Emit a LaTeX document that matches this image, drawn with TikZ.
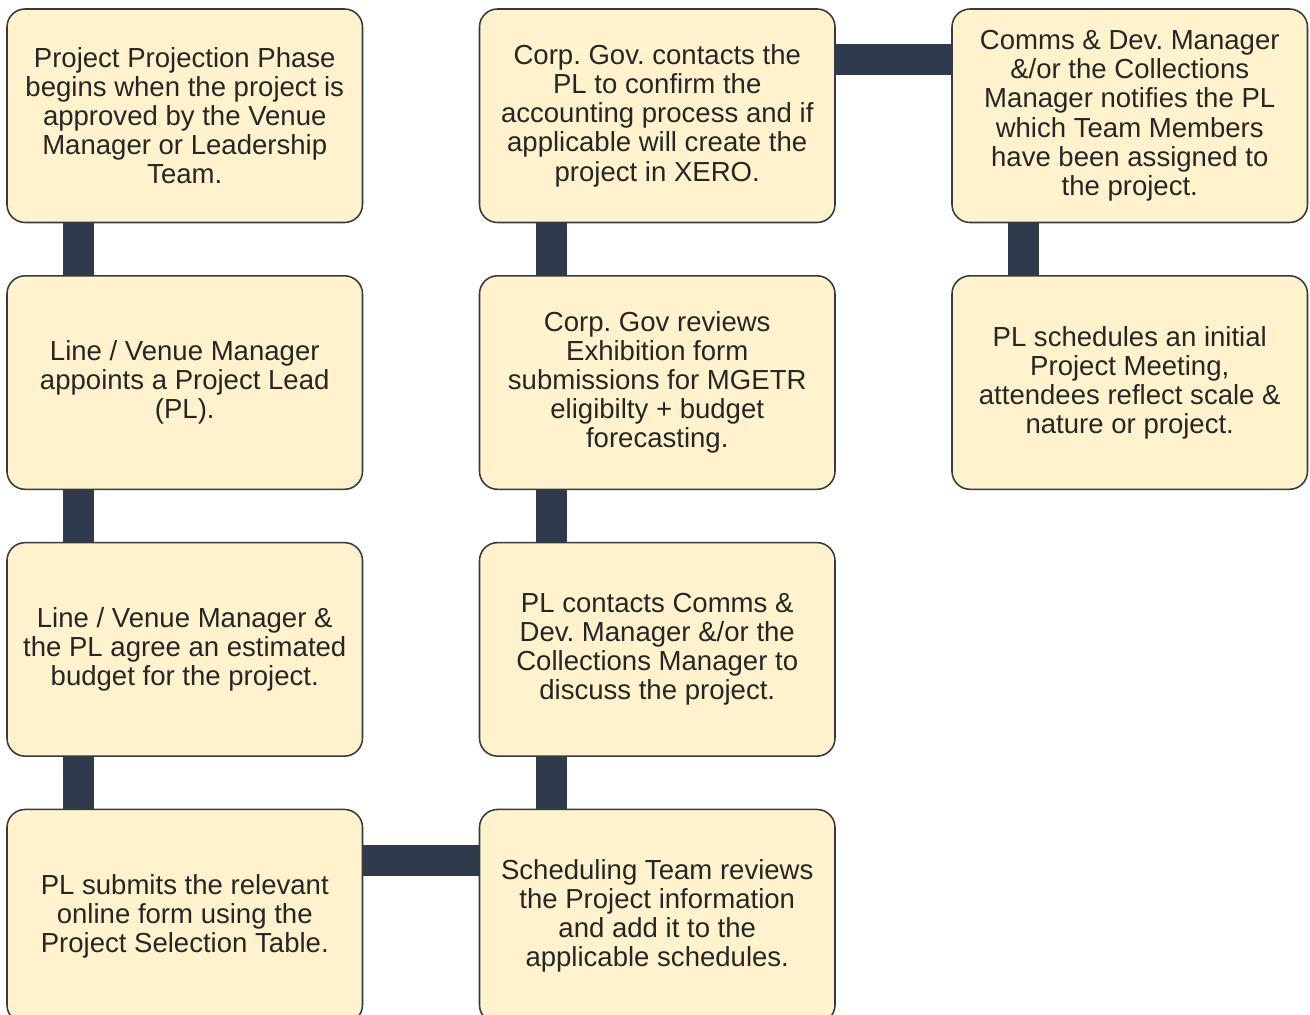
\documentclass[tikz,border=0pt]{standalone}
\usepackage{fontspec}
\setmainfont{Liberation Sans}
\usepackage{xcolor}
\usepackage{tikz}
\usetikzlibrary{positioning, backgrounds}
\definecolor{notefill}{HTML}{FFF2CC}
\definecolor{noteline}{HTML}{36393D}
\definecolor{barcol}{RGB}{47,59,77}
\frenchspacing

\begin{document}
\begin{tikzpicture}[node distance=1.333cm and 2.925cm, stepbox/.style={rectangle, draw=noteline, line width=1.1pt, rounded corners=0.45cm, fill=notefill, align=center, font=\fontsize{19.6}{20.7}\selectfont, text=black!85, minimum width=8.8875cm, minimum height=5.3375cm, inner sep=0pt, outer sep=0pt}, bar/.style={draw=barcol, line width=0.775cm}]
  \useasboundingbox (0,0) rectangle (32.75,-25.375);
  \node[stepbox, anchor=north west] (p1) at (0.175,-0.225) {Project Projection Phase\\begins when the project is\\approved by the Venue\\Manager or Leadership\\Team.};
  \node[stepbox, below=of p1] (p2) {Line / Venue Manager\\appoints a Project Lead\\(PL).};
  \node[stepbox, below=of p2] (p3) {Line / Venue Manager \&\\the PL agree an estimated\\budget for the project.};
  \node[stepbox, below=of p3] (p4) {PL submits the relevant\\online form using the\\Project Selection Table.};
  \node[stepbox, right=of p1] (c1) {Corp. Gov. contacts the\\PL to confirm the\\accounting process and if\\applicable will create the\\project in XERO.};
  \node[stepbox, below=of c1] (c2) {Corp. Gov reviews\\Exhibition form\\submissions for MGETR\\eligibilty + budget\\forecasting.};
  \node[stepbox, below=of c2] (c3) {PL contacts Comms \&\\Dev. Manager \&/or the\\Collections Manager to\\discuss the project.};
  \node[stepbox, below=of c3] (c4) {Scheduling Team reviews\\the Project information\\and add it to the\\applicable schedules.};
  \node[stepbox, right=of c1] (m1) {Comms \& Dev. Manager\\\&/or the Collections\\Manager notifies the PL\\which Team Members\\have been assigned to\\the project.};
  \node[stepbox, below=of m1] (m2) {PL schedules an initial\\Project Meeting,\\attendees reflect scale \&\\nature or project.};
  \begin{scope}[on background layer]
    \draw[bar] ([xshift=1.7875cm]p1.south west) -- ([xshift=1.7875cm]p2.north west);
    \draw[bar] ([xshift=1.7875cm]p2.south west) -- ([xshift=1.7875cm]p3.north west);
    \draw[bar] ([xshift=1.7875cm]p3.south west) -- ([xshift=1.7875cm]p4.north west);
    \draw[bar] ([yshift=-1.275cm]p4.north east) -- ([yshift=-1.275cm]c4.north west);
    \draw[bar] ([xshift=1.7875cm]c4.north west) -- ([xshift=1.7875cm]c3.south west);
    \draw[bar] ([xshift=1.7875cm]c3.north west) -- ([xshift=1.7875cm]c2.south west);
    \draw[bar] ([xshift=1.7875cm]c2.north west) -- ([xshift=1.7875cm]c1.south west);
    \draw[bar] ([yshift=-1.275cm]c1.north east) -- ([yshift=-1.275cm]m1.north west);
    \draw[bar] ([xshift=1.7875cm]m1.south west) -- ([xshift=1.7875cm]m2.north west);
  \end{scope}
\end{tikzpicture}
\end{document}
